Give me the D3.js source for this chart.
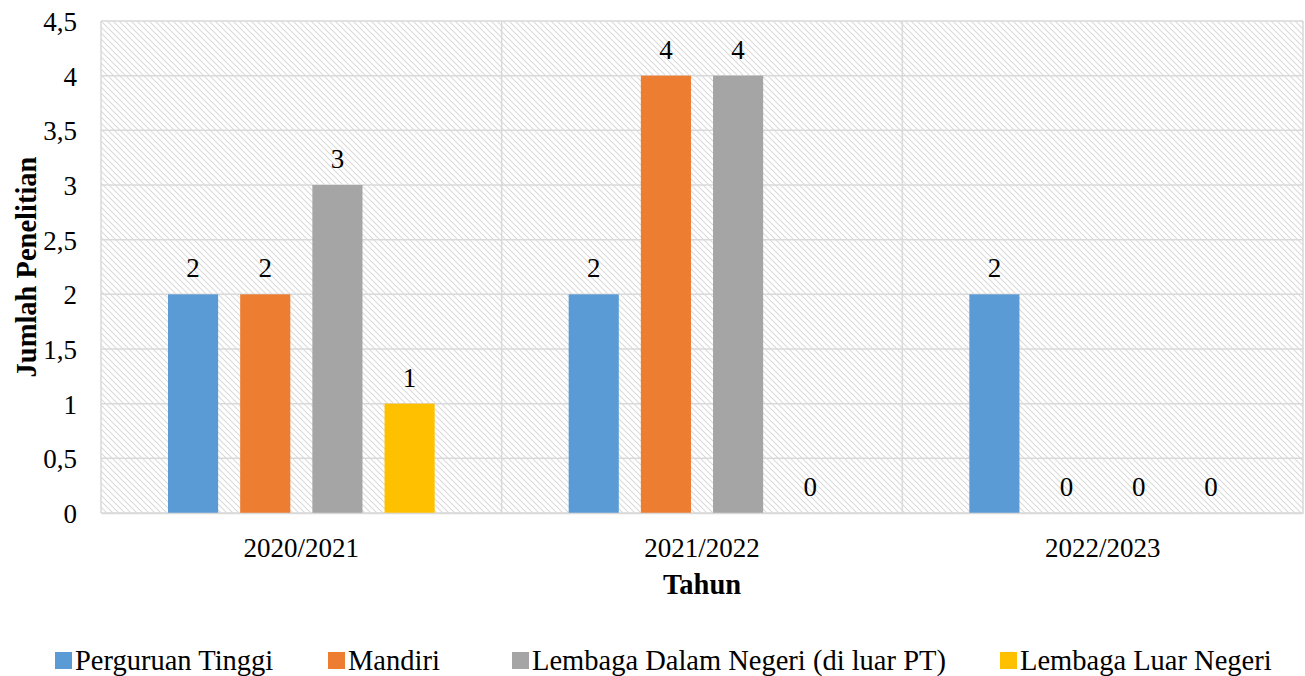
<!DOCTYPE html>
<html>
<head>
<meta charset="utf-8">
<script src="https://cdn.jsdelivr.net/npm/d3@7"></script>
<style>
  body { margin: 0; background: #fff; }
</style>
</head>
<body>
<svg id="chart" width="1305" height="676"></svg>
<script>
const years = ["2020/2021", "2021/2022", "2022/2023"];
const seriesNames = ["Perguruan Tinggi", "Mandiri", "Lembaga Dalam Negeri (di luar PT)", "Lembaga Luar Negeri"];
const perguruanTinggi = [2, 2, 2];
const mandiri = [2, 4, 0];
const lembagaDalam = [3, 4, 0];
const lembagaLuar = [1, 0, 0];
const yTicks = [0, 0.5, 1, 1.5, 2, 2.5, 3, 3.5, 4, 4.5];
const colors = ["#5B9BD5", "#ED7D31", "#A5A5A5", "#FFC000"];

const FONT = "'Liberation Serif'";

const seriesValues = [perguruanTinggi, mandiri, lembagaDalam, lembagaLuar];
const data = years.map((yr, i) => ({
  year: yr,
  values: seriesNames.map((s, j) => ({ key: s, value: seriesValues[j][i] }))
}));

const svg = d3.select("#chart");
const margin = { top: 21, right: 2, bottom: 163, left: 101 };
const width = 1305 - margin.left - margin.right;
const height = 676 - margin.top - margin.bottom;

// hatch background
const defs = svg.append("defs");
const pat = defs.append("pattern")
  .attr("id", "hatch")
  .attr("patternUnits", "userSpaceOnUse")
  .attr("width", 6).attr("height", 6);
pat.append("path")
  .attr("d", "M0,0 L6,6 M-1,5 L1,7 M5,-1 L7,1")
  .attr("stroke", "#dadada")
  .attr("stroke-width", 1.1);

const g = svg.append("g").attr("transform", `translate(${margin.left},${margin.top})`);

g.append("rect")
  .attr("width", width).attr("height", height)
  .attr("fill", "url(#hatch)");

const x0 = d3.scaleBand().domain(years).range([0, width]);
const x1 = d3.scaleBand().domain(seriesNames)
  .range([67, x0.bandwidth() - 67])
  .paddingInner(0.3056);
const y = d3.scaleLinear().domain([0, 4.5]).range([height, 0]);
const color = d3.scaleOrdinal().domain(seriesNames).range(colors);

// horizontal gridlines
g.append("g")
  .selectAll("line")
  .data(yTicks)
  .join("line")
  .attr("x1", 0).attr("x2", width)
  .attr("y1", d => y(d)).attr("y2", d => y(d))
  .attr("stroke", "#d9d9d9").attr("stroke-width", 1.5);

// vertical gridlines (category boundaries)
g.append("g")
  .selectAll("line")
  .data(years.concat(["end"]))
  .join("line")
  .attr("x1", d => d === "end" ? width : x0(d))
  .attr("x2", d => d === "end" ? width : x0(d))
  .attr("y1", 0).attr("y2", height)
  .attr("stroke", "#d9d9d9").attr("stroke-width", 1.5);

// bars
const groups = g.append("g")
  .selectAll("g")
  .data(data)
  .join("g")
  .attr("transform", d => `translate(${x0(d.year)},0)`);

groups.selectAll("rect")
  .data(d => d.values)
  .join("rect")
  .attr("x", d => x1(d.key))
  .attr("y", d => y(d.value))
  .attr("width", x1.bandwidth())
  .attr("height", d => height - y(d.value))
  .attr("fill", d => color(d.key));

groups.selectAll("text")
  .data(d => d.values)
  .join("text")
  .attr("x", d => x1(d.key) + x1.bandwidth() / 2)
  .attr("y", d => y(d.value) - 17)
  .attr("text-anchor", "middle")
  .style("font-family", FONT)
  .style("font-size", "27px")
  .text(d => d.value);

// y axis
const yAxis = g.append("g")
  .call(d3.axisLeft(y).tickValues(yTicks).tickSize(0).tickPadding(24)
    .tickFormat(d => String(d).replace(".", ",")));
yAxis.select(".domain").remove();
yAxis.selectAll("text")
  .style("font-family", FONT).style("font-size", "27px")
  .attr("fill", "#000").attr("dy", "0.35em");

// x axis
const xAxis = g.append("g")
  .attr("transform", `translate(0,${height})`)
  .call(d3.axisBottom(x0).tickSize(0).tickPadding(44));
xAxis.select(".domain").attr("stroke", "#d9d9d9").attr("stroke-width", 1.5);
xAxis.selectAll("text")
  .style("font-family", FONT).style("font-size", "27px")
  .attr("fill", "#000").attr("dy", "0");

// axis titles
svg.append("text")
  .attr("transform", `translate(36,${margin.top + height / 2}) rotate(-90)`)
  .attr("text-anchor", "middle")
  .style("font-family", FONT)
  .style("font-size", "28.5px").style("font-weight", "bold")
  .text("Jumlah Penelitian");

svg.append("text")
  .attr("x", margin.left + width / 2)
  .attr("y", 594)
  .attr("text-anchor", "middle")
  .style("font-family", FONT)
  .style("font-size", "28.5px").style("font-weight", "bold")
  .text("Tahun");

// legend
const legendX = [55, 328, 512, 1000];
const legend = svg.append("g")
  .selectAll("g")
  .data(seriesNames)
  .join("g")
  .attr("transform", (d, i) => `translate(${legendX[i]},652)`);
legend.append("rect")
  .attr("width", 17).attr("height", 17)
  .attr("fill", d => color(d));
legend.append("text")
  .attr("x", 20).attr("y", 18)
  .style("font-family", FONT)
  .style("font-size", "28.5px")
  .text(d => d);
</script>
</body>
</html>
